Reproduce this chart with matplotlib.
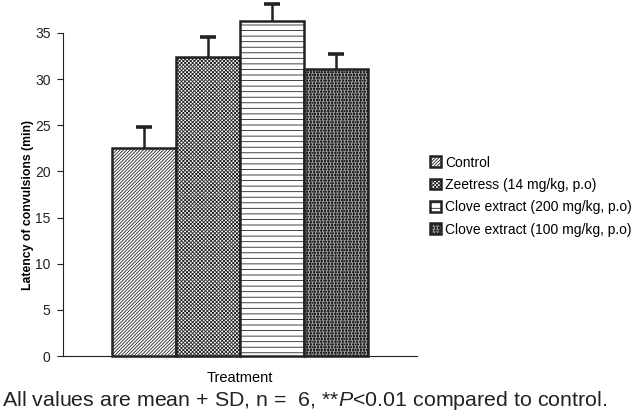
import matplotlib
matplotlib.use("Agg")
import matplotlib.pyplot as plt

plt.rcParams['font.family'] = ['Liberation Sans', 'DejaVu Sans']
plt.rcParams['mathtext.fontset'] = 'custom'
plt.rcParams['mathtext.it'] = 'Liberation Sans:italic'
plt.rcParams['mathtext.rm'] = 'Liberation Sans'
plt.rcParams['hatch.linewidth'] = 0.6

categories = ["Control", "Zeetress (14 mg/kg, p.o)",
              "Clove extract (200 mg/kg, p.o)", "Clove extract (100 mg/kg, p.o)"]
means = [22.5, 32.4, 36.3, 31.1]
sds = [2.3, 2.2, 1.8, 1.6]
yticks = [0, 5, 10, 15, 20, 25, 30, 35]
hatches = ['//////////', 'xxxxxxxxx', '---', '||||||||||||......']

fig = plt.figure(figsize=(6.35, 4.11), dpi=100)
ax = fig.add_axes([63/635, 1-356/411, 354/635, 323/411])

x = list(range(len(categories)))
for i in x:
    bars = ax.bar(i, means[i], width=1.0, color='white', edgecolor='#222222',
                  linewidth=1.8, hatch=hatches[i], label=categories[i], zorder=3)
    for b in bars:
        b.set_clip_on(False)
    ax.errorbar(i, means[i], yerr=sds[i], fmt='none', ecolor='#222222',
                elinewidth=1.8, capsize=6, capthick=2.6, clip_on=False, zorder=2)

ax.set_xlim(-1.27, 4.27)
ax.set_ylim(0, 35)
ax.set_yticks(yticks)
ax.set_xticks([])
ax.spines['top'].set_visible(False)
ax.spines['right'].set_visible(False)
ax.spines['left'].set_color('#222222')
ax.spines['bottom'].set_color('#222222')
ax.tick_params(axis='y', direction='out', length=4, labelsize=10, colors='#222222', pad=5)
ax.set_ylabel("Latency of convulsions (min)", fontsize=8.8, fontweight='bold')
ax.yaxis.set_label_coords(-0.083, 0.469)
ax.set_xlabel("Treatment", fontsize=10.5, labelpad=11)

leg = ax.legend(loc='upper left', bbox_to_anchor=(424/635, 1-150/411),
                bbox_transform=fig.transFigure, frameon=False, fontsize=10,
                handlelength=0.8, handleheight=0.8, handletextpad=0.3,
                labelspacing=0.6, borderaxespad=0)

fig.text(2/635, 1-400/411, r"All values are mean + SD, n =  6, **$\mathit{P}$<0.01 compared to control.",
         fontsize=15.4, va='center', ha='left', color='#222222')

fig.savefig("out.png", dpi=100)
